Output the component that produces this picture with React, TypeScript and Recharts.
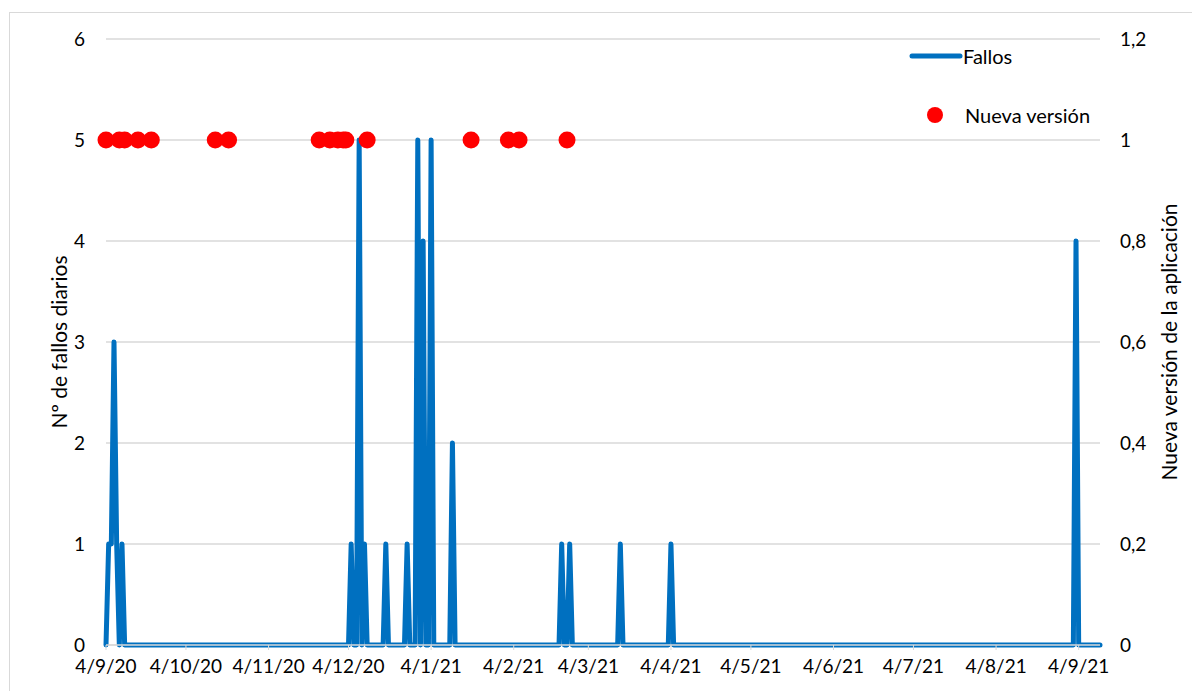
import React from 'react';
import { ComposedChart, Line, Scatter, XAxis, YAxis, CartesianGrid, Legend } from 'recharts';

// Días transcurridos desde el 4/9/20
const fallosDias = [0, 1, 2, 3, 4, 5, 6, 7, 91, 92, 93, 94, 95, 96, 97, 98, 104, 105, 106, 112, 113, 114, 116, 117, 118, 119, 120, 121, 122, 123, 129, 130, 131, 170, 171, 172, 173, 174, 175, 192, 193, 194, 211, 212, 213, 363, 364, 365, 373];
const fallosValores = [0, 1, 1, 3, 1, 0, 1, 0, 0, 1, 0, 0, 5, 0, 1, 0, 0, 1, 0, 0, 1, 0, 0, 5, 0, 4, 0, 0, 5, 0, 0, 2, 0, 0, 1, 0, 0, 1, 0, 0, 1, 0, 0, 1, 0, 0, 4, 0, 0];

const versionDias = [0, 5, 7, 12, 17, 41, 46, 80, 84, 87, 89, 90, 98, 137, 151, 155, 173];
const versionValores = [1, 1, 1, 1, 1, 1, 1, 1, 1, 1, 1, 1, 1, 1, 1, 1, 1];

const xTickDias = [0, 30, 61, 91, 122, 153, 181, 212, 242, 273, 303, 334, 365];
const xTickLabels = ['4/9/20', '4/10/20', '4/11/20', '4/12/20', '4/1/21', '4/2/21', '4/3/21', '4/4/21', '4/5/21', '4/6/21', '4/7/21', '4/8/21', '4/9/21'];
const leftTicks = [0, 1, 2, 3, 4, 5, 6];
const rightTicks = [0, 0.2, 0.4, 0.6, 0.8, 1, 1.2];
const rightTickLabels = ['0', '0,2', '0,4', '0,6', '0,8', '1', '1,2'];

const fallosData = fallosDias.map((d, i) => ({ d, fallos: fallosValores[i] }));
const versionData = versionDias.map((d, i) => ({ d, version: versionValores[i] }));

const FONT = 'Lato, "Open Sans", sans-serif';
const BLUE = '#0070C0';
const RED = '#FF0000';

const renderLegend = () => (
  <div style={{ position: 'absolute', left: 0, top: 0, width: 220, height: 90, fontFamily: FONT, fontSize: 20, color: '#000' }}>
    <svg width={60} height={20} style={{ position: 'absolute', left: 4, top: 7 }}>
      <line x1={4} y1={10} x2={52} y2={10} stroke={BLUE} strokeWidth={5} strokeLinecap="round" />
    </svg>
    <div style={{ position: 'absolute', left: 59, top: 4, lineHeight: '26px' }}>Fallos</div>
    <svg width={20} height={20} style={{ position: 'absolute', left: 21, top: 66 }}>
      <circle cx={10} cy={10} r={8} fill={RED} />
    </svg>
    <div style={{ position: 'absolute', left: 61, top: 63, lineHeight: '26px' }}>Nueva versión</div>
  </div>
);

export default function App() {
  return (
    <div style={{ position: 'relative', width: 1192, height: 683, overflow: 'hidden', background: '#fff' }}>
      <div style={{ position: 'absolute', left: 1, top: 4, width: 1300, height: 800, borderTop: '1px solid #d9d9d9', borderLeft: '1px solid #d9d9d9' }} />
      <ComposedChart width={1192} height={683} margin={{ top: 31, right: 0, bottom: 0, left: 0 }} style={{ fontFamily: FONT }}>
        <CartesianGrid vertical={false} stroke="#d9d9d9" strokeWidth={1.5} yAxisId="left" />
        <XAxis
          dataKey="d"
          type="number"
          domain={[0, 373]}
          ticks={xTickDias}
          tickFormatter={(v) => xTickLabels[xTickDias.indexOf(v)]}
          interval={0}
          height={46}
          axisLine={{ stroke: '#d9d9d9', strokeWidth: 1.5 }}
          tickLine={{ stroke: '#d9d9d9' }}
          tickSize={5}
          tickMargin={10}
          tick={{ fontSize: 19, fill: '#000', fontFamily: FONT }}
          allowDuplicatedCategory={false}
        />
        <YAxis
          yAxisId="left"
          orientation="left"
          width={98}
          domain={[0, 6]}
          ticks={leftTicks}
          axisLine={false}
          tickLine={false}
          tickSize={0}
          tickMargin={21}
          tick={{ fontSize: 19, fill: '#000', fontFamily: FONT }}
          label={{ value: 'Nº de fallos diarios', angle: -90, position: 'center', dx: 3, style: { fontSize: 21, fill: '#000', fontFamily: FONT } }}
        />
        <YAxis
          yAxisId="right"
          orientation="right"
          width={100}
          domain={[0, 1.2]}
          ticks={rightTicks}
          tickFormatter={(v) => rightTickLabels[rightTicks.indexOf(v)]}
          axisLine={false}
          tickLine={false}
          tickSize={0}
          tickMargin={20}
          tick={{ fontSize: 19, fill: '#000', fontFamily: FONT, textAnchor: 'start' }}
          label={{ value: 'Nueva versión de la aplicación', angle: -90, position: 'center', dx: 20, style: { fontSize: 21, fill: '#000', fontFamily: FONT } }}
        />
        <Line
          yAxisId="left"
          data={fallosData}
          dataKey="fallos"
          name="Fallos"
          type="linear"
          stroke={BLUE}
          strokeWidth={5}
          strokeLinejoin="round"
          strokeLinecap="round"
          dot={false}
          activeDot={false}
          isAnimationActive={false}
        />
        <Scatter
          yAxisId="right"
          data={versionData}
          dataKey="version"
          name="Nueva versión"
          fill={RED}
          shape={(p: any) => <circle cx={p.cx} cy={p.cy} r={8.5} fill={RED} />}
          isAnimationActive={false}
        />
        <Legend content={renderLegend} wrapperStyle={{ position: 'absolute', left: 896, top: 31, width: 0, height: 0, overflow: 'visible' }} />
      </ComposedChart>
    </div>
  );
}
